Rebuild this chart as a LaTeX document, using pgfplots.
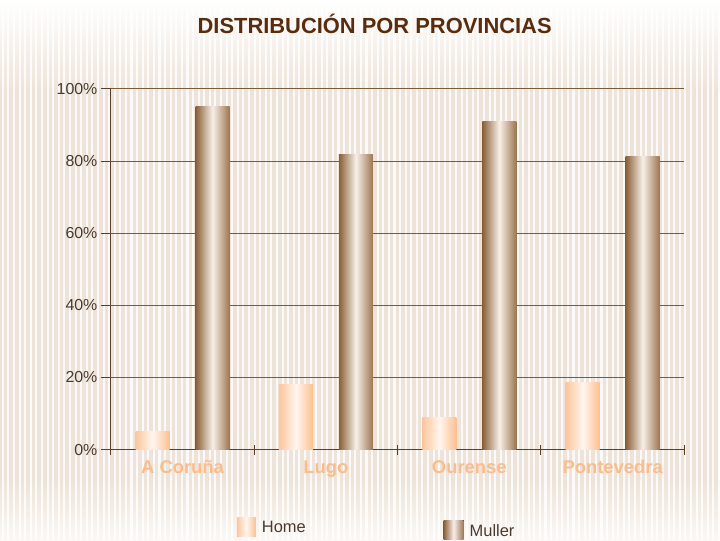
\documentclass[border=0pt]{standalone}
\usepackage{fontspec}
\setmainfont{Liberation Sans}
\usepackage{pgfplots}
\pgfplotsset{compat=1.18}
\definecolor{bgbeige}{HTML}{EEE3D8}
\definecolor{bglight}{HTML}{FBF8F5}
\definecolor{titlebrown}{HTML}{5A2C0B}
\definecolor{gridbrown}{HTML}{7E5A3A}
\definecolor{axisbrown}{HTML}{5E3F25}
\definecolor{ticktext}{HTML}{4A3A2E}
\definecolor{catpeach}{HTML}{FFBB88}
\definecolor{homeL}{HTML}{FFC59A}
\definecolor{homeR}{HTML}{FFBF8E}
\definecolor{homeM}{HTML}{FFF6EF}
\definecolor{mulL}{HTML}{8A5F36}
\definecolor{mulR}{HTML}{9C7650}
\definecolor{mulM}{HTML}{F7F0E8}
\pgfplotsset{
  homebar/.style={ybar, bar width=34bp, bar shift=-30bp, draw=none,
    left color=homeL, right color=homeR, middle color=homeM},
  mulbar/.style={ybar, bar width=34bp, bar shift=30bp, draw=none,
    left color=mulL, right color=mulR, middle color=mulM},
}
\begin{document}
\begin{tikzpicture}[x=1bp,y=1bp]
% background
\fill[bgbeige] (0,60) rectangle (720,451);
\shade[bottom color=bglight, top color=bgbeige] (0,0) rectangle (720,60);
\shade[bottom color=bgbeige, top color=white] (0,450) rectangle (720,541);
\foreach \i in {0,...,128} {
  \fill[white, opacity=0.85] ({\i*5.6+1.8},0) rectangle ({\i*5.6+3.9},541);
}
% title
\node[font=\fontsize{22}{25}\selectfont\bfseries, text=titlebrown] at (375,517) {DISTRIBUCIÓN POR PROVINCIAS};
\begin{axis}[
  at={(111bp,91bp)}, anchor=origin,
  scale only axis, width=574bp, height=361bp,
  xmin=0, xmax=4, ymin=0, ymax=100,
  axis x line=bottom, axis y line=left,
  axis line style={-, color=axisbrown, line width=1bp},
  ytick={0,20,...,100},
  yticklabel={\pgfmathprintnumber{\tick}\%},
  /pgf/number format/assume math mode=true,
  yticklabel style={font=\fontsize{16}{18}\selectfont, text=ticktext},
  ymajorgrids,
  major grid style={color=gridbrown, line width=0.9bp},
  ytick align=outside,
  major tick length=10bp,
  tick style={color=axisbrown, line width=1bp},
  xtick={0,1,2,3,4},
  xticklabels={},
  xtick align=center,
  extra x ticks={0.5,1.5,2.5,3.5},
  extra x tick labels={A Coruña,Lugo,Ourense,Pontevedra},
  extra x tick style={major tick length=0pt, tick style={draw=none},
    xticklabel style={font=\fontsize{18.5}{21}\selectfont\bfseries, text=catpeach,
      text height=14bp, text depth=4bp, yshift=-6bp}},
  clip=false,
]
\addplot[homebar] coordinates {(0.5,5.0)};
\addplot[homebar] coordinates {(1.5,18.0)};
\addplot[homebar] coordinates {(2.5,9.0)};
\addplot[homebar] coordinates {(3.5,18.6)};
\addplot[mulbar] coordinates {(0.5,95.0)};
\addplot[mulbar] coordinates {(1.5,81.7)};
\addplot[mulbar] coordinates {(2.5,90.9)};
\addplot[mulbar] coordinates {(3.5,81.2)};
\end{axis}
% legend
\fill[left color=homeL, right color=homeR, middle color=homeM] (237,4) rectangle (256,23);
\node[anchor=west, inner sep=0pt, font=\fontsize{16.5}{18}\selectfont, text=ticktext] at (262,13.5) {Home};
\fill[left color=mulL, right color=mulR, middle color=mulM] (444,1) rectangle (464,20);
\node[anchor=west, inner sep=0pt, font=\fontsize{16.5}{18}\selectfont, text=ticktext] at (470,10) {Muller};
\end{tikzpicture}
\end{document}
